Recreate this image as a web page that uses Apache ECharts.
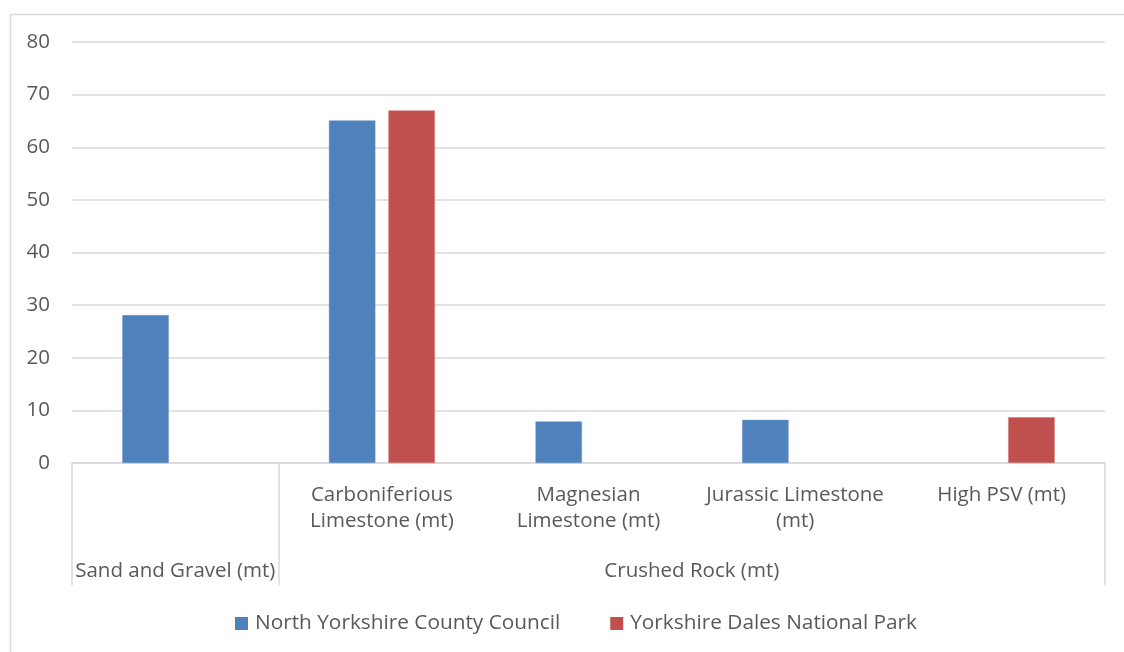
<!DOCTYPE html>
<html>
<head>
<meta charset="utf-8">
<script src="https://cdn.jsdelivr.net/npm/echarts@6/dist/echarts.min.js"></script>
<style>html,body{margin:0;padding:0;background:#fff;}#c{width:1124px;height:652px;}</style>
</head>
<body>
<div id="c"></div>
<script>
const subCategories = ['', 'Carboniferious\nLimestone (mt)', 'Magnesian\nLimestone (mt)', 'Jurassic Limestone\n(mt)', 'High PSV (mt)'];
const groupNames = ['Sand and Gravel (mt)', 'Crushed Rock (mt)'];
const groupBounds = [0, 1, 5];        // category index boundaries of groups
const groupCenters = [0.5, 3];        // label positions on the group scale
const seriesNames = ['North Yorkshire County Council', 'Yorkshire Dales National Park'];
const nyccValues = [28.1, 65.1, 7.9, 8.2, null];
const ydnpValues = [null, 67.0, null, null, 8.7];
const yTicks = { min: 0, max: 80, interval: 10 };

const FONT = 'Open Sans';
const FS = 20.5;
const TXT = '#595959';
const LINE = '#d9d9d9';

const chart = echarts.init(document.getElementById('c'), null, { renderer: 'canvas' });
chart.setOption({
  backgroundColor: '#fff',
  textStyle: { fontFamily: FONT },
  graphic: [{
    type: 'rect', left: 8, top: 12, silent: true,
    shape: { width: 1200, height: 700 },
    style: { fill: 'none', stroke: LINE, lineWidth: 1.5 }
  }],
  grid: { left: 72, right: 19, top: 42, bottom: 189, containLabel: false },
  legend: {
    top: 608, left: 230,
    itemWidth: 13, itemHeight: 13, itemGap: 50,
    icon: 'rect',
    itemStyle: { borderWidth: 0 },
    textStyle: { color: TXT, fontSize: 20.8, fontFamily: FONT, padding: [0, 0, 0, 2] },
    data: seriesNames
  },
  xAxis: [{
    type: 'category',
    data: subCategories,
    axisLine: { show: true, lineStyle: { color: LINE, width: 1.5 } },
    axisTick: { show: false },
    axisLabel: { color: TXT, fontSize: FS, fontFamily: FONT, margin: 19, lineHeight: 26, interval: 0 }
  }, {
    type: 'value',
    position: 'bottom',
    min: 0, max: 5,
    axisLine: { show: false },
    splitLine: { show: false },
    axisTick: { show: true, customValues: groupBounds, length: 122, inside: false, lineStyle: { color: LINE, width: 1.5 } },
    axisLabel: {
      customValues: groupCenters,
      color: TXT, fontSize: FS, fontFamily: FONT, margin: 98,
      formatter: function (v) { return v < 1 ? groupNames[0] : groupNames[1]; }
    }
  }],
  yAxis: {
    type: 'value',
    min: yTicks.min, max: yTicks.max, interval: yTicks.interval,
    axisLine: { show: false },
    axisTick: { show: false },
    splitLine: { lineStyle: { color: LINE, width: 1.5 } },
    axisLabel: { color: TXT, fontSize: FS, fontFamily: FONT, margin: 22 }
  },
  series: [{
    name: seriesNames[0], type: 'bar', xAxisIndex: 0,
    data: nyccValues, barWidth: '22.5%', barGap: '28%',
    itemStyle: { color: '#4f81bd', borderColor: '#6f97c9', borderWidth: 0.5 }
  }, {
    name: seriesNames[1], type: 'bar', xAxisIndex: 0,
    data: ydnpValues, barWidth: '22.5%', barGap: '28%',
    itemStyle: { color: '#c0504d', borderColor: '#d07573', borderWidth: 0.5 }
  }]
});
</script>
</body>
</html>
